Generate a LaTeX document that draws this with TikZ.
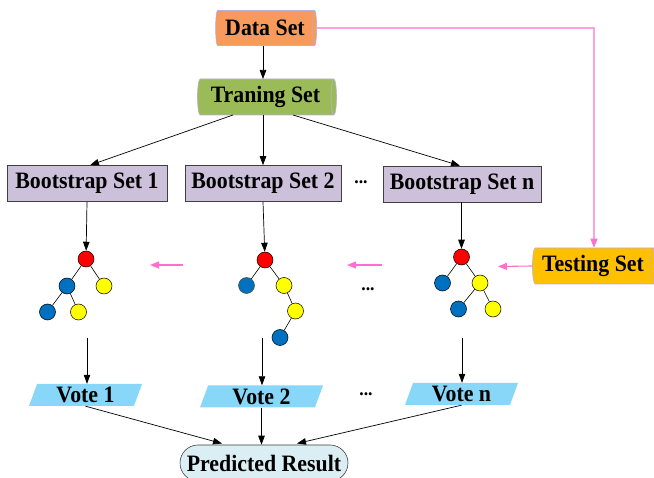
\documentclass[tikz,border=0pt]{standalone}
\usepackage{fontspec}
\setmainfont[FakeStretch=0.93]{Liberation Serif}
\usetikzlibrary{shapes.geometric,shapes.misc,arrows.meta}
\definecolor{dsfill}{HTML}{F79A5B}
\definecolor{trfill}{HTML}{9BBB59}
\definecolor{tefill}{HTML}{FFC000}
\definecolor{bsfill}{HTML}{CCC0DA}
\definecolor{vofill}{HTML}{88D7F8}
\definecolor{prfill}{HTML}{DAEEF3}
\definecolor{cylline}{HTML}{B8B0D4}
\definecolor{pinkline}{HTML}{FF70CC}
\definecolor{tred}{HTML}{FF0000}
\definecolor{tblue}{HTML}{0070C0}
\definecolor{tyellow}{HTML}{FFFF00}
\begin{document}
\begin{tikzpicture}[x=1pt,y=-1pt,
  font=\fontsize{23.5}{25}\selectfont\bfseries,
  arr/.style={-{Triangle[length=9pt,width=6.5pt]},line width=0.7pt},
  parr/.style={-{Triangle[length=9pt,width=7pt]},line width=1.1pt,draw=pinkline,color=pinkline},
  cyl/.style={cylinder,aspect=0.25,draw=cylline,line width=0.6pt,inner sep=0pt,minimum width=#1},
  cyl/.default=36,
  bsbox/.style={rectangle,draw=black!75,fill=bsfill,line width=0.6pt,minimum height=36,inner sep=0pt},
  vbox/.style={trapezium,trapezium left angle=63,trapezium right angle=117,fill=vofill,draw=none,
     minimum height=22,inner sep=0pt,trapezium stretches body},
  tn/.style={circle,draw=black,line width=0.5pt,minimum size=16,inner sep=0pt},
  tr/.style={tn,fill=tred},
  tb/.style={tn,fill=tblue},
  ty/.style={tn,fill=tyellow},
  te/.style={line width=0.6pt},
  dots/.style={font=\fontsize{19}{20}\selectfont\bfseries,inner sep=0pt}
]
\useasboundingbox (0,0) rectangle (654,478);

% top
\node[cyl=35,fill=dsfill,minimum height=101] (ds) at (265,28) {Data Set};
\node[cyl=36,fill=trfill,minimum height=139] (ts) at (265.5,97) {Traning Set};

% bootstrap
\node[bsbox,minimum width=160] (bs1) at (87,183.5) {Bootstrap Set 1};
\node[bsbox,minimum width=156] (bs2) at (263,183.5) {Bootstrap Set 2};
\node[bsbox,minimum width=158] (bsn) at (462,184) {Bootstrap Set n};
\node[dots] (d1) at (361,182) {...};

% testing
\node[cyl=36,fill=tefill,minimum height=124] (test) at (593,266) {Testing Set};

% trees
\node[tr] (a0) at (86,259) {};
\node[tb] (a1) at (67,286) {};
\node[ty] (a2) at (104,286) {};
\node[tb] (a3) at (47.5,312) {};
\node[ty] (a4) at (78.5,312) {};
\draw[te] (a0) -- (a1); \draw[te] (a0) -- (a2);
\draw[te] (a1) -- (a3); \draw[te] (a1) -- (a4);

\node[tr] (b0) at (265,260) {};
\node[tb,draw=black!50!olive] (b1) at (246.5,285.5) {};
\node[ty] (b2) at (284,285.5) {};
\node[ty] (b3) at (295.5,311) {};
\node[tb] (b4) at (280,337.5) {};
\draw[te] (b0) -- (b1); \draw[te] (b0) -- (b2);
\draw[te] (b2) -- (b3); \draw[te] (b3) -- (b4);

\node[tr] (c0) at (461.5,257) {};
\node[tb] (c1) at (442.5,283) {};
\node[ty] (c2) at (480,283) {};
\node[tb] (c3) at (458.5,309) {};
\node[ty] (c4) at (493,309) {};
\draw[te] (c0) -- (c1); \draw[te] (c0) -- (c2);
\draw[te] (c2) -- (c3); \draw[te] (c2) -- (c4);
\node[dots] (d2) at (368,289) {...};

% votes
\node[vbox,minimum width=113] (v1) at (85.5,395) {Vote 1};
\node[vbox,minimum width=123] (v2) at (261.5,396.5) {Vote 2};
\node[vbox,minimum width=113] (vn) at (461.5,394) {Vote n};
\node[dots] (d3) at (366,394) {...};

% result
\node[rounded rectangle,draw=black!75,fill=prfill,line width=0.6pt,minimum width=168,minimum height=36,inner sep=0pt] (pr) at (264,463) {Predicted Result};

% coordinates for free ends
\coordinate (ta) at (87,338);
\coordinate (tb) at (262,338);
\coordinate (tc) at (462,338);
\coordinate (p1a) at (183,265);
\coordinate (p1b) at (150,265);
\coordinate (p2a) at (382,265);
\coordinate (p2b) at (347,265);
\coordinate (p3b) at (498,266.5);
\coordinate (corner) at (594,28);

% black arrows
\draw[arr] (ds.south -| 263,0) -- (263,79);
\draw[arr] (233,115) -- (bs1.north -| 90,0);
\draw[arr] (263,115) -- (bs2.north -| 263,0);
\draw[arr] (293,115) -- (bsn.north -| 460,0);
\draw[arr] (bs1.south -| 87,0) -- (a0);
\draw[arr] (bs2.south -| 263,0) -- (b0);
\draw[arr] (bsn.south -| 461.5,0) -- (c0);
\draw[arr] (ta) -- (ta |- v1.north);
\draw[arr] (tb) -- (tb |- v2.north);
\draw[arr] (tc) -- (tc |- vn.north);
\draw[arr] (v1.south) -- (222,443.5);
\draw[arr] (v2.south) -- (v2.south |- pr.north);
\draw[arr] (vn.south) -- (297,443.5);

% pink
\draw[parr] (ds.east) -- (corner) -- (corner |- test.north);
\draw[parr] (p1a) -- (p1b);
\draw[parr] (p2a) -- (p2b);
\draw[parr] (test.west) -- (p3b);
\end{tikzpicture}
\end{document}
